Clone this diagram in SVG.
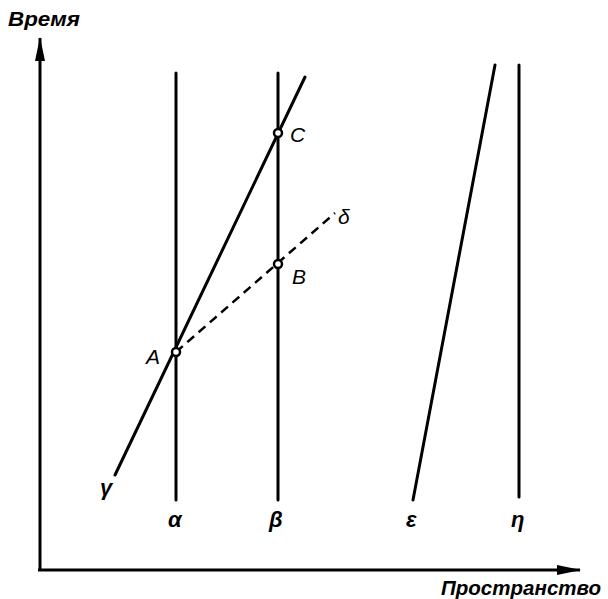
<svg xmlns="http://www.w3.org/2000/svg" width="608" height="599" viewBox="0 0 608 599">
<style>
.ln{stroke:#000;stroke-width:3;fill:none;stroke-linecap:round}
.ax{stroke:#000;stroke-width:3;fill:none}
.d{stroke:#000;stroke-width:2.5;fill:none;stroke-dasharray:9,6}
.pt{stroke:#000;stroke-width:2.5;fill:#fff}
text{font-family:"Liberation Sans",Arial,sans-serif;font-style:italic;fill:#000}
.lb{font-size:21px}
.gr{font-size:22px;font-weight:bold}
.axl{font-size:20px;font-weight:bold}
</style>
<defs>
<marker id="ah2" viewBox="0 0 24 10" refX="23" refY="5" markerWidth="24" markerHeight="10" markerUnits="userSpaceOnUse" orient="auto">
<path d="M0,0 L24,5 L0,10 Z" fill="#000"/>
</marker>
</defs>
<g id="axes">
<line class="ax" x1="40" y1="570" x2="40" y2="38" marker-end="url(#ah2)"/>
<line class="ax" x1="38" y1="570" x2="580" y2="570" marker-end="url(#ah2)"/>
<text class="axl" x="8" y="26" textLength="72" lengthAdjust="spacingAndGlyphs">Время</text>
<text class="axl" x="441" y="595" textLength="160" lengthAdjust="spacingAndGlyphs">Пространство</text>
</g>
<g id="connectors">
<line class="ln" x1="176" y1="73" x2="176" y2="500"/>
<line class="ln" x1="278" y1="73" x2="278" y2="500"/>
<line class="ln" x1="519" y1="65" x2="519" y2="497"/>
<line class="ln" x1="413" y1="500" x2="495" y2="65"/>
<line class="ln" x1="115" y1="475" x2="305" y2="77"/>
<line class="d" x1="176" y1="352" x2="335" y2="213"/>
</g>
<g id="A"><circle class="pt" cx="176" cy="352" r="4"/><text class="lb" x="146" y="364">A</text></g>
<g id="B"><circle class="pt" cx="278" cy="264" r="4"/><text class="lb" x="292" y="284">B</text></g>
<g id="C"><circle class="pt" cx="278" cy="133" r="4"/><text class="lb" x="290" y="142">C</text></g>
<g id="labels">
<text class="lb" x="338" y="224">δ</text>
<text class="gr" x="100" y="495">γ</text>
<text class="gr" x="168" y="527">α</text>
<text class="gr" x="269" y="527">β</text>
<text class="gr" x="406" y="527">ε</text>
<text class="gr" x="511" y="527">η</text>
</g>
</svg>
